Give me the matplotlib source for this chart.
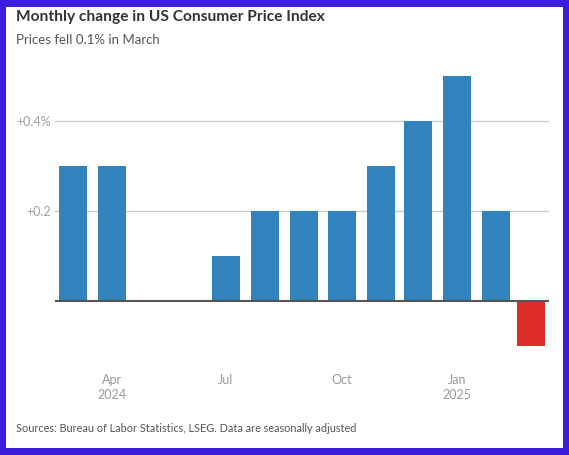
import matplotlib
matplotlib.use("Agg")
import matplotlib.pyplot as plt
import matplotlib.patches as mpatches
import numpy as np
import datetime as dt

plt.rcParams['font.family'] = ['Lato', 'DejaVu Sans']

# data: monthly % change in CPI, Mar 2024 .. Mar 2025
months = [dt.date(2024, m, 1) for m in range(3, 13)] + [dt.date(2025, m, 1) for m in range(1, 4)]
values = [0.3, 0.3, 0.0, 0.0, 0.1, 0.2, 0.2, 0.2, 0.3, 0.4, 0.5, 0.2, -0.1]
tick_dates = [dt.date(2024, 4, 1), dt.date(2024, 7, 1), dt.date(2024, 10, 1), dt.date(2025, 1, 1)]
tick_labels = ["Apr\n2024", "Jul", "Oct", "Jan\n2025"]
y_ticks = [0.2, 0.4]
y_labels = ["+0.2", "+0.4%"]

W, H = 569, 455
fig = plt.figure(figsize=(W / 100, H / 100), dpi=100)
fig.patch.set_facecolor("#3d1cdb")
# white card inside the purple frame
fig.add_artist(mpatches.Rectangle((6 / W, 7 / H), (563 - 6) / W, (448 - 7) / H,
                                  transform=fig.transFigure, facecolor="white",
                                  edgecolor="none", zorder=0))

# axes placed in pixel terms
ax_l, ax_r, ax_top, ax_bot = 55, 549, 53.5, 368.5
ax = fig.add_axes([ax_l / W, (H - ax_bot) / H, (ax_r - ax_l) / W, (ax_bot - ax_top) / H])
ax.set_facecolor("none")

x = [np.datetime64(d) for d in months]
colors = ["#3182bd" if v >= 0 else "#de2d26" for v in values]
ax.bar(x, values, width=22.3, color=colors, zorder=2)

ax.set_xlim(np.datetime64(dt.date(2024, 3, 1)) - np.timedelta64(14, 'D'),
            np.datetime64(dt.date(2025, 3, 1)) + np.timedelta64(14, 'D'))
ax.set_ylim(-0.15, 0.55)

for yv in y_ticks:
    ax.axhline(yv, color="#cccccc", lw=1, zorder=1)
ax.axhline(0, color="#555555", lw=1.5, zorder=3)

ax.set_yticks(y_ticks)
ax.set_yticklabels(y_labels)
ax.set_xticks([np.datetime64(d) for d in tick_dates])
ax.set_xticklabels(tick_labels, linespacing=1.3)
ax.tick_params(axis="y", length=0, pad=3, labelsize=9, labelcolor="#a0a0a0")
ax.tick_params(axis="x", length=0, pad=4, labelsize=9, labelcolor="#999999")
for s in ax.spines.values():
    s.set_visible(False)

fig.text(16 / W, 1 - 17 / H, "Monthly change in US Consumer Price Index",
         fontsize=11.2, fontweight="bold", color="#333333", va="center", ha="left")
fig.text(16 / W, 1 - 40 / H, "Prices fell 0.1% in March",
         fontsize=9.5, color="#555555", va="center", ha="left")
fig.text(16 / W, 1 - 428 / H, "Sources: Bureau of Labor Statistics, LSEG. Data are seasonally adjusted",
         fontsize=7.8, color="#555555", va="center", ha="left")

fig.savefig("out.png", dpi=100, facecolor=fig.get_facecolor())
